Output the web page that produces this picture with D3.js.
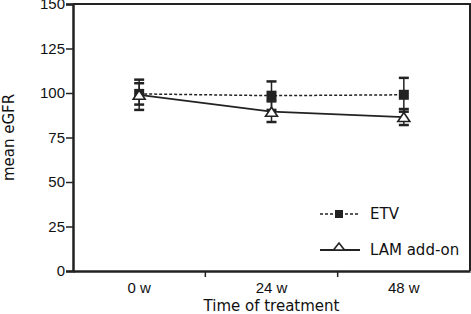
<!DOCTYPE html>
<html>
<head>
<meta charset="utf-8">
<script src="https://cdn.jsdelivr.net/npm/d3@7"></script>
<style>
  body { margin: 0; background: #fff; }
  svg { display: block; font-family: "DejaVu Sans", sans-serif; }
</style>
</head>
<body>
<div id="chart"></div>
<script>
// data
const weeks = ["0 w", "24 w", "48 w"];
const etvMean = [99.5, 98.5, 99];
const etvErr = [6, 8, 9.5];
const lamMean = [99, 89.5, 86.5];
const lamErr = [8.5, 5.8, 4.5];
const yTicks = [0, 25, 50, 75, 100, 125, 150];

const width = 471, height = 314;
const margin = { top: 4, right: 1, bottom: 43, left: 73 };

const svg = d3.select("#chart").append("svg")
    .attr("width", width)
    .attr("height", height);

const x = d3.scaleBand()
    .domain(weeks)
    .range([margin.left, width - margin.right]);

const y = d3.scaleLinear()
    .domain([0, 150])
    .range([height - margin.bottom, margin.top]);

const cx = d => x(d) + x.bandwidth() / 2;

// box (top and right edges)
svg.append("path")
    .attr("d", `M${margin.left},${margin.top}H${width - margin.right}V${height - margin.bottom}`)
    .attr("fill", "none")
    .attr("stroke", "#222")
    .attr("stroke-width", 2);

// y axis
const yAxis = svg.append("g")
    .attr("transform", `translate(${margin.left},0)`)
    .call(d3.axisLeft(y).tickValues(yTicks).tickSize(7).tickPadding(1));
yAxis.select(".domain").attr("stroke", "#222").attr("stroke-width", 2.5);
yAxis.selectAll(".tick line").attr("stroke", "#222").attr("stroke-width", 1.5);
yAxis.selectAll(".tick text").attr("font-size", 15).attr("fill", "#111");

// x axis: ticks between categories
const xAxis = svg.append("g")
    .attr("transform", `translate(0,${height - margin.bottom})`)
    .call(d3.axisBottom(x).tickSize(0).tickPadding(11));
xAxis.select(".domain").attr("stroke", "#222").attr("stroke-width", 2.5);
xAxis.selectAll(".tick text").attr("font-size", 15).attr("fill", "#111");
xAxis.selectAll(".sep")
    .data(weeks.slice(1))
    .join("line")
    .attr("x1", d => x(d)).attr("x2", d => x(d))
    .attr("y1", 0).attr("y2", 6)
    .attr("stroke", "#222").attr("stroke-width", 1.5);

// axis titles
svg.append("text")
    .attr("x", (margin.left + width - margin.right) / 2)
    .attr("y", 311)
    .attr("text-anchor", "middle")
    .attr("font-size", 15)
    .attr("fill", "#111")
    .text("Time of treatment");

svg.append("text")
    .attr("transform", `translate(14,${(y(150) + y(0)) / 2}) rotate(-90)`)
    .attr("text-anchor", "middle")
    .attr("font-size", 15)
    .attr("fill", "#111")
    .text("mean eGFR");

// series
const series = [
    { name: "ETV", mean: etvMean, err: etvErr, dash: "3,2", marker: "square" },
    { name: "LAM add-on", mean: lamMean, err: lamErr, dash: null, marker: "triangle" }
];

const line = d3.line().x(d => cx(d.w)).y(d => y(d.v));

function drawMarker(g, type, px, py, small) {
    if (type === "square") {
        const h = small ? 4 : 5;
        g.append("rect")
            .attr("x", px - h).attr("y", py - h)
            .attr("width", 2 * h).attr("height", 2 * h)
            .attr("fill", "#222");
    } else {
        const w = small ? 5.5 : 6, t = small ? 7 : 9;
        g.append("path")
            .attr("d", `M${px - w},${py + t / 2}L${px + w},${py + t / 2}L${px},${py - t / 2}Z`)
            .attr("fill", "#fff")
            .attr("stroke", "#222")
            .attr("stroke-width", 1.6)
            .attr("stroke-linejoin", "miter");
    }
}

series.forEach(s => {
    const pts = weeks.map((w, i) => ({ w: w, v: s.mean[i], e: s.err[i] }));
    const g = svg.append("g");

    // error bars
    pts.forEach(p => {
        const px = cx(p.w);
        g.append("line")
            .attr("x1", px).attr("x2", px)
            .attr("y1", y(p.v + p.e)).attr("y2", y(p.v - p.e))
            .attr("stroke", "#222").attr("stroke-width", 1.5);
        [p.v + p.e, p.v - p.e].forEach(v => {
            g.append("line")
                .attr("x1", px - 5).attr("x2", px + 5)
                .attr("y1", y(v)).attr("y2", y(v))
                .attr("stroke", "#222").attr("stroke-width", 2.5);
        });
    });

    g.append("path")
        .datum(pts)
        .attr("d", line)
        .attr("fill", "none")
        .attr("stroke", "#222")
        .attr("stroke-width", s.dash ? 1.5 : 1.8)
        .attr("stroke-dasharray", s.dash);

    pts.forEach(p => drawMarker(g, s.marker, cx(p.w), y(p.v)));
});

// legend
const legend = svg.append("g");
series.forEach((s, i) => {
    const ly = 214 + i * 36;
    legend.append("line")
        .attr("x1", 320).attr("x2", 360)
        .attr("y1", ly).attr("y2", ly)
        .attr("stroke", "#222")
        .attr("stroke-width", s.dash ? 1.5 : 2)
        .attr("stroke-dasharray", s.dash);
    drawMarker(legend, s.marker, 339, ly - (s.marker === "triangle" ? 3.5 : 0), true);
    legend.append("text")
        .attr("x", 370).attr("y", ly + 5)
        .attr("font-size", 15)
        .attr("fill", "#111")
        .text(s.name);
});
</script>
</body>
</html>
